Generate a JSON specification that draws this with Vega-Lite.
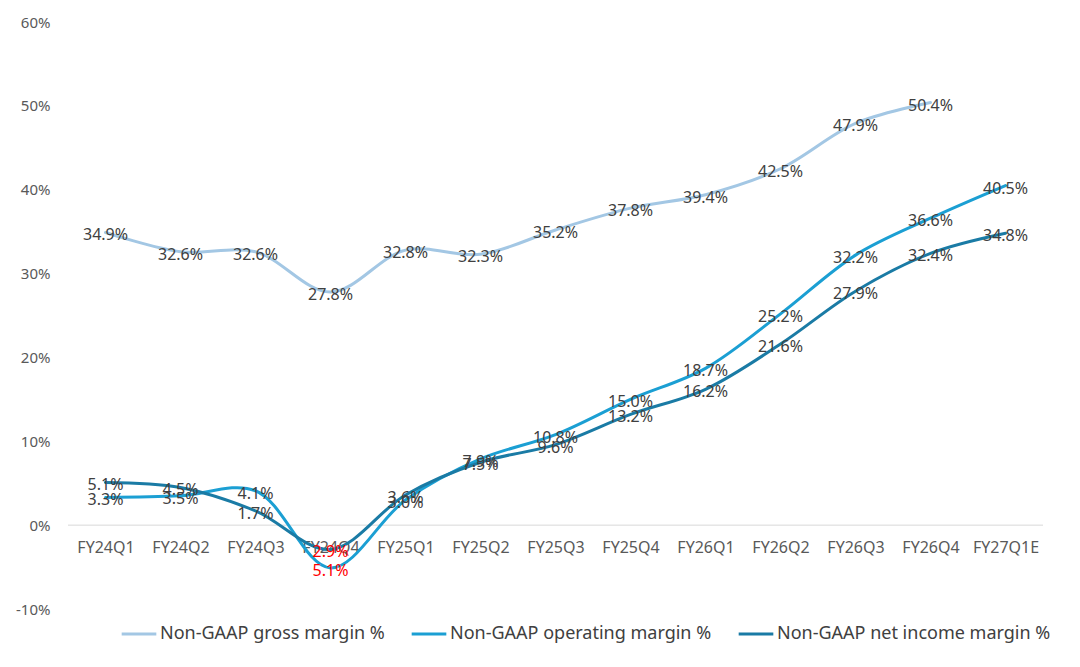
{
  "$schema": "https://vega.github.io/schema/vega-lite/v6.json",
  "width": 975,
  "height": 587,
  "autosize": {"type": "none"},
  "padding": {"left": 68, "top": 22, "right": 37, "bottom": 58},
  "background": "white",
  "config": {"view": {"stroke": null}},
  "data": {
    "values": [
      {"quarter": "FY24Q1", "series": "Non-GAAP gross margin %", "value": 34.9},
      {"quarter": "FY24Q2", "series": "Non-GAAP gross margin %", "value": 32.6},
      {"quarter": "FY24Q3", "series": "Non-GAAP gross margin %", "value": 32.6},
      {"quarter": "FY24Q4", "series": "Non-GAAP gross margin %", "value": 27.8},
      {"quarter": "FY25Q1", "series": "Non-GAAP gross margin %", "value": 32.8},
      {"quarter": "FY25Q2", "series": "Non-GAAP gross margin %", "value": 32.3},
      {"quarter": "FY25Q3", "series": "Non-GAAP gross margin %", "value": 35.2},
      {"quarter": "FY25Q4", "series": "Non-GAAP gross margin %", "value": 37.8},
      {"quarter": "FY26Q1", "series": "Non-GAAP gross margin %", "value": 39.4},
      {"quarter": "FY26Q2", "series": "Non-GAAP gross margin %", "value": 42.5},
      {"quarter": "FY26Q3", "series": "Non-GAAP gross margin %", "value": 47.9},
      {"quarter": "FY26Q4", "series": "Non-GAAP gross margin %", "value": 50.4},
      {"quarter": "FY24Q1", "series": "Non-GAAP operating margin %", "value": 3.3},
      {"quarter": "FY24Q2", "series": "Non-GAAP operating margin %", "value": 3.5},
      {"quarter": "FY24Q3", "series": "Non-GAAP operating margin %", "value": 4.1},
      {"quarter": "FY24Q4", "series": "Non-GAAP operating margin %", "value": -5.1},
      {"quarter": "FY25Q1", "series": "Non-GAAP operating margin %", "value": 3.0},
      {"quarter": "FY25Q2", "series": "Non-GAAP operating margin %", "value": 7.9},
      {"quarter": "FY25Q3", "series": "Non-GAAP operating margin %", "value": 10.8},
      {"quarter": "FY25Q4", "series": "Non-GAAP operating margin %", "value": 15.0},
      {"quarter": "FY26Q1", "series": "Non-GAAP operating margin %", "value": 18.7},
      {"quarter": "FY26Q2", "series": "Non-GAAP operating margin %", "value": 25.2},
      {"quarter": "FY26Q3", "series": "Non-GAAP operating margin %", "value": 32.2},
      {"quarter": "FY26Q4", "series": "Non-GAAP operating margin %", "value": 36.6},
      {"quarter": "FY27Q1E", "series": "Non-GAAP operating margin %", "value": 40.5},
      {"quarter": "FY24Q1", "series": "Non-GAAP net income margin %", "value": 5.1},
      {"quarter": "FY24Q2", "series": "Non-GAAP net income margin %", "value": 4.5},
      {"quarter": "FY24Q3", "series": "Non-GAAP net income margin %", "value": 1.7},
      {"quarter": "FY24Q4", "series": "Non-GAAP net income margin %", "value": -2.9},
      {"quarter": "FY25Q1", "series": "Non-GAAP net income margin %", "value": 3.6},
      {"quarter": "FY25Q2", "series": "Non-GAAP net income margin %", "value": 7.5},
      {"quarter": "FY25Q3", "series": "Non-GAAP net income margin %", "value": 9.6},
      {"quarter": "FY25Q4", "series": "Non-GAAP net income margin %", "value": 13.2},
      {"quarter": "FY26Q1", "series": "Non-GAAP net income margin %", "value": 16.2},
      {"quarter": "FY26Q2", "series": "Non-GAAP net income margin %", "value": 21.6},
      {"quarter": "FY26Q3", "series": "Non-GAAP net income margin %", "value": 27.9},
      {"quarter": "FY26Q4", "series": "Non-GAAP net income margin %", "value": 32.4},
      {"quarter": "FY27Q1E", "series": "Non-GAAP net income margin %", "value": 34.8}
    ]
  },
  "encoding": {
    "x": {
      "field": "quarter",
      "type": "ordinal",
      "sort": null,
      "scale": {"type": "point", "padding": 0.5},
      "axis": {
        "title": null,
        "labelAngle": 0,
        "ticks": false,
        "domain": false,
        "grid": false,
        "offset": -84,
        "labelPadding": 14,
        "labelFont": "Noto Sans",
        "labelFontSize": 16,
        "labelColor": "#595959"
      }
    },
    "y": {
      "field": "value",
      "type": "quantitative",
      "scale": {"domain": [-10, 60], "nice": false, "zero": false},
      "axis": {
        "title": null,
        "values": [-10, 0, 10, 20, 30, 40, 50, 60],
        "labelExpr": "datum.value + '%'",
        "grid": false,
        "domain": false,
        "ticks": false,
        "labelPadding": 18,
        "labelFont": "Noto Sans",
        "labelFontSize": 15,
        "labelColor": "#595959"
      }
    }
  },
  "layer": [
    {
      "data": {"values": [{"zero": 0}]},
      "mark": {"type": "rule", "color": "#d9d9d9", "strokeWidth": 1},
      "encoding": {
        "x": null,
        "y": {"field": "zero", "type": "quantitative"}
      }
    },
    {
      "mark": {"type": "line", "interpolate": "catmull-rom", "strokeWidth": 3, "strokeCap": "round"},
      "encoding": {
        "color": {
          "field": "series",
          "type": "nominal",
          "sort": null,
          "scale": {
            "domain": ["Non-GAAP gross margin %", "Non-GAAP operating margin %", "Non-GAAP net income margin %"],
            "range": ["#a3c7e4", "#1b9fd3", "#1a7ba5"]
          },
          "legend": {
            "title": null,
            "orient": "none",
            "direction": "horizontal",
            "legendX": 52,
            "legendY": 593,
            "symbolType": "stroke",
            "symbolStrokeWidth": 3,
            "symbolSize": 1200,
            "labelFont": "Noto Sans",
            "labelFontSize": 18,
            "labelColor": "#404040",
            "labelOffset": 2,
            "columnPadding": 20,
            "labelLimit": 400
          }
        }
      }
    },
    {
      "transform": [
        {"calculate": "format(abs(datum.value), '.1f') + '%'", "as": "label"}
      ],
      "mark": {"type": "text", "font": "Noto Sans", "fontSize": 16, "align": "center", "baseline": "middle", "dy": 3},
      "encoding": {
        "text": {"field": "label"},
        "color": {
          "condition": {"test": "datum.value < 0", "value": "#ff0000"},
          "value": "#404040"
        }
      }
    }
  ]
}
